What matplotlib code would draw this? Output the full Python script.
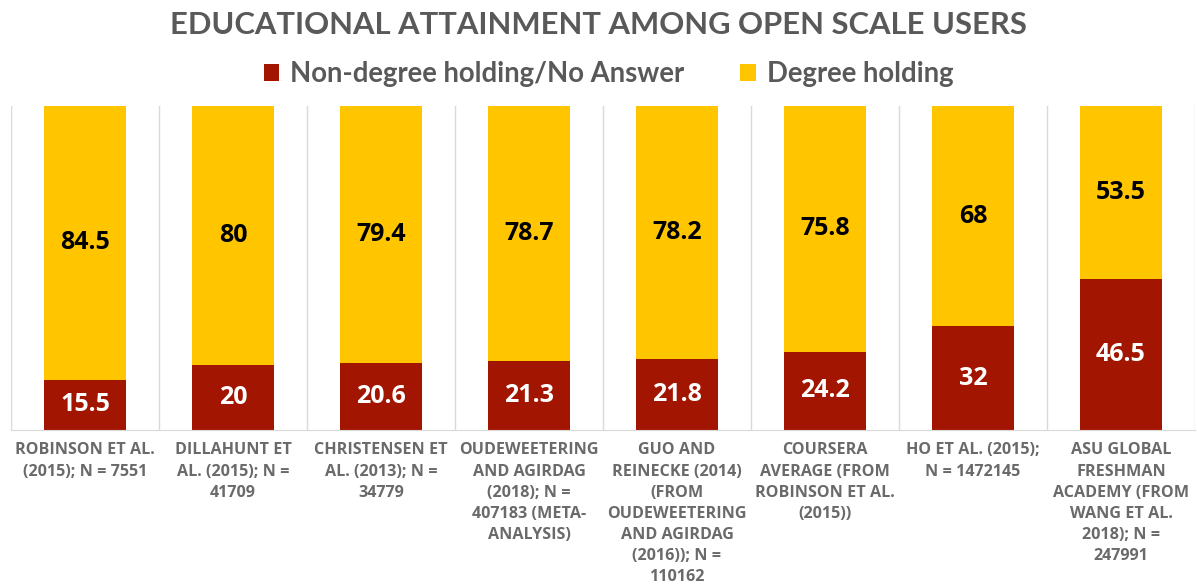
import matplotlib
matplotlib.use("Agg")
import matplotlib.pyplot as plt
import numpy as np

categories = [
    "ROBINSON ET AL.\n(2015); N = 7551",
    "DILLAHUNT ET\nAL. (2015); N =\n41709",
    "CHRISTENSEN ET\nAL. (2013); N =\n34779",
    "OUDEWEETERING\nAND AGIRDAG\n(2018); N =\n407183 (META-\nANALYSIS)",
    "GUO AND\nREINECKE (2014)\n(FROM\nOUDEWEETERING\nAND AGIRDAG\n(2016)); N =\n110162",
    "COURSERA\nAVERAGE (FROM\nROBINSON ET AL.\n(2015))",
    "HO ET AL. (2015);\nN = 1472145",
    "ASU GLOBAL\nFRESHMAN\nACADEMY (FROM\nWANG ET AL.\n2018); N =\n247991",
]
non_degree = [15.5, 20, 20.6, 21.3, 21.8, 24.2, 32, 46.5]
degree = [84.5, 80, 79.4, 78.7, 78.2, 75.8, 68, 53.5]

RED = "#A21500"
YELLOW = "#FFC600"
GRAY = "#595959"
LABEL_GRAY = "#6A6A6A"

fig = plt.figure(figsize=(11.97, 5.86), dpi=100)
ax = fig.add_axes([11 / 1197, 156 / 586, 1184 / 1197, 324 / 586])

x = np.arange(len(categories))
w = 0.56
b1 = ax.bar(x, non_degree, w, color=RED, label="Non-degree holding/No Answer", zorder=2)
b2 = ax.bar(x, degree, w, bottom=non_degree, color=YELLOW, label="Degree holding", zorder=2)

val_font = dict(fontsize=18, fontweight="bold", family="Open Sans")
for xi, nd, dg in zip(x, non_degree, degree):
    ax.text(xi, nd / 2, f"{nd:g}", ha="center", va="center", color="white", **val_font)
    ax.text(xi, nd + dg / 2, f"{dg:g}", ha="center", va="center", color="black", **val_font)

ax.set_xlim(-0.5, len(categories) - 0.5)
ax.set_ylim(0, 100)
ax.set_yticks([])
ax.set_xticks(x)
ax.set_xticklabels(categories, fontsize=11.6, fontweight="bold", color=LABEL_GRAY,
                   family="Open Sans", linespacing=1.42, va="top")
ax.tick_params(axis="x", length=0, pad=9)

# separators between categories
for b in np.arange(-0.5, len(categories) + 0.5, 1):
    ax.axvline(b, color="#D9D9D9", lw=1, zorder=1)
for s in ["top", "left", "right"]:
    ax.spines[s].set_visible(False)
ax.spines["bottom"].set_color("#D9D9D9")

renderer = fig.canvas.get_renderer()


def fit_width(txt, target_px):
    size = txt.get_fontsize()
    width = txt.get_window_extent(renderer).width
    txt.set_fontsize(size * target_px / width)


title = fig.text(0.5, 1 - 25 / 586, "EDUCATIONAL ATTAINMENT AMONG OPEN SCALE USERS",
                 ha="center", va="center", fontsize=24, fontweight="bold", color=GRAY,
                 family="Lato")
fit_width(title, 857)

leg = fig.legend(handles=[b1, b2], loc="center",
                 bbox_to_anchor=(0.5 + 10 / 1197, 1 - 74 / 586),
                 ncol=2, frameon=False, handlelength=0.56, handleheight=0.56,
                 columnspacing=2.05, handletextpad=0.4,
                 prop=dict(size=19.8, family="Lato", weight="bold"))
for t in leg.get_texts():
    t.set_color(GRAY)

fig.savefig("out.png", dpi=100)
